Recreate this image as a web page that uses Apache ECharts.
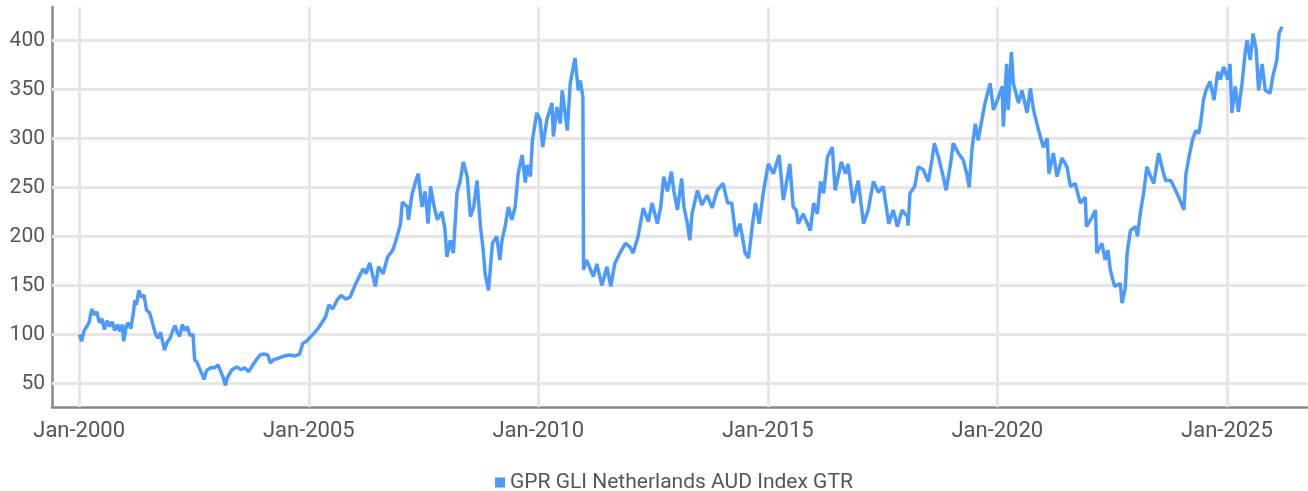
<!DOCTYPE html>
<html>
<head>
<meta charset="utf-8">
<title>GPR GLI Netherlands AUD Index GTR</title>
<script src="https://cdn.jsdelivr.net/npm/echarts@6/dist/echarts.min.js"></script>
<style>
  html, body { margin: 0; padding: 0; background: #fff; }
  #chart { width: 1308px; height: 491px; }
</style>
</head>
<body>
<div id="chart"></div>
<script>
// values (approximate)
var seriesName = 'GPR GLI Netherlands AUD Index GTR';

var dates = [
  '2000-01-03','2000-01-20','2000-02-10','2000-03-01','2000-03-20','2000-04-10','2000-05-01','2000-05-20','2000-06-10','2000-07-01',
  '2000-07-20','2000-08-10','2000-09-01','2000-09-20','2000-10-10','2000-11-01','2000-11-20','2000-12-10','2000-12-20','2001-01-10',
  '2001-01-25','2001-02-15','2001-03-05','2001-03-20','2001-04-01','2001-04-20','2001-05-10','2001-06-01','2001-06-20','2001-07-15',
  '2001-08-10','2001-09-01','2001-09-20','2001-10-10','2001-11-10','2001-12-01','2001-12-25','2002-01-15','2002-02-01','2002-02-20',
  '2002-03-10','2002-04-01','2002-04-20','2002-05-10','2002-06-01','2002-06-25','2002-07-08','2002-07-25','2002-08-20','2002-09-10',
  '2002-09-20','2002-10-10','2002-11-10','2002-12-15','2003-01-10','2003-02-01','2003-02-20','2003-03-10','2003-03-25','2003-05-01',
  '2003-06-10','2003-07-10','2003-08-10','2003-09-10','2003-10-10','2003-11-10','2003-12-10','2004-01-10','2004-02-10','2004-03-01',
  '2004-03-25','2004-05-10','2004-06-20','2004-08-01','2004-09-10','2004-10-20','2004-11-15','2004-12-15','2005-01-10','2005-02-10',
  '2005-03-15','2005-04-15','2005-05-15','2005-06-10','2005-07-10','2005-08-15','2005-09-15','2005-10-20','2005-11-25','2006-01-10',
  '2006-02-10','2006-03-10','2006-04-01','2006-05-01','2006-06-15','2006-07-10','2006-08-15','2006-09-20','2006-11-01','2006-12-05',
  '2007-01-01','2007-01-15','2007-02-25','2007-03-05','2007-04-01','2007-05-01','2007-05-22','2007-06-20','2007-07-15','2007-08-08',
  '2007-08-28','2007-09-20','2007-10-20','2007-11-25','2007-12-20','2008-01-05','2008-02-01','2008-02-25','2008-03-25','2008-04-20',
  '2008-05-15','2008-06-15','2008-07-10','2008-08-05','2008-09-01','2008-09-28','2008-10-20','2008-11-05','2008-12-01','2009-01-01',
  '2009-02-05','2009-03-01','2009-03-18','2009-04-12','2009-05-08','2009-06-05','2009-07-01','2009-07-25','2009-08-25','2009-09-20',
  '2009-10-05','2009-10-30','2009-11-15','2009-12-20','2010-01-15','2010-02-05','2010-03-10','2010-04-20','2010-05-01','2010-05-30',
  '2010-06-25','2010-07-10','2010-08-20','2010-09-12','2010-10-20','2010-11-15','2010-12-01','2010-12-22','2010-12-27','2011-01-20',
  '2011-03-15','2011-04-12','2011-05-22','2011-07-01','2011-08-01','2011-09-01','2011-10-12','2011-11-25','2012-01-01','2012-01-25',
  '2012-03-05','2012-04-15','2012-05-25','2012-06-25','2012-08-05','2012-09-01','2012-09-25','2012-10-25','2012-11-25','2012-12-15',
  '2013-01-12','2013-02-15','2013-03-05','2013-04-01','2013-04-20','2013-05-08','2013-06-20','2013-07-25','2013-09-05','2013-10-15',
  '2013-11-25','2014-01-10','2014-02-15','2014-03-20','2014-04-22','2014-05-25','2014-07-05','2014-08-01','2014-08-30','2014-09-25',
  '2014-10-25','2014-11-25','2015-01-05','2015-02-15','2015-04-01','2015-05-05','2015-06-25','2015-07-22','2015-08-15','2015-09-01',
  '2015-10-10','2015-12-05','2016-01-01','2016-01-30','2016-02-25','2016-03-20','2016-04-20','2016-05-28','2016-06-20','2016-08-08',
  '2016-09-10','2016-10-01','2016-11-10','2016-12-20','2017-02-01','2017-03-10','2017-04-20','2017-05-30','2017-07-08','2017-08-20',
  '2017-09-25','2017-10-28','2017-12-05','2018-01-15','2018-01-22','2018-02-05','2018-03-15','2018-04-12','2018-05-22','2018-07-01',
  '2018-07-30','2018-08-18','2018-09-20','2018-10-28','2018-11-20','2018-12-25','2019-01-15','2019-02-25','2019-04-05','2019-05-05',
  '2019-05-22','2019-06-15','2019-07-10','2019-08-01','2019-09-25','2019-11-05','2019-12-01','2020-01-08','2020-02-10','2020-02-18',
  '2020-03-15','2020-03-28','2020-04-22','2020-05-08','2020-06-18','2020-07-15','2020-08-25','2020-09-20','2020-10-15','2020-11-25',
  '2021-01-01','2021-02-01','2021-02-15','2021-03-22','2021-04-20','2021-05-30','2021-07-08','2021-08-05','2021-09-12','2021-10-22',
  '2021-12-01','2021-12-10','2022-01-25','2022-02-20','2022-03-03','2022-04-12','2022-05-08','2022-05-30','2022-06-18','2022-07-22',
  '2022-09-05','2022-09-20','2022-10-15','2022-10-30','2022-11-25','2023-01-05','2023-01-20','2023-02-12','2023-03-10','2023-04-05',
  '2023-05-05','2023-05-30','2023-07-08','2023-08-08','2023-09-01','2023-10-12','2023-11-05','2023-12-15','2024-01-25','2024-02-10',
  '2024-03-05','2024-04-01','2024-04-28','2024-05-22','2024-06-05','2024-06-28','2024-07-18','2024-08-20','2024-09-20','2024-10-20',
  '2024-11-10','2024-12-05','2025-01-08','2025-01-25','2025-02-10','2025-03-08','2025-04-02','2025-05-01','2025-05-25','2025-06-10',
  '2025-07-05','2025-07-28','2025-08-22','2025-09-10','2025-10-08','2025-11-02','2025-12-10','2026-01-01','2026-02-02','2026-02-20',
  '2026-03-15'
];

var values = [
  100, 93, 104, 108, 112, 126, 120, 123, 112, 116,
  105, 114, 108, 113, 104, 110, 103, 110, 93, 108,
  112, 106, 120, 135, 130, 145, 138, 140, 125, 122,
  110, 100, 96, 102, 84, 92, 96, 104, 109, 102,
  98, 110, 104, 108, 99, 100, 74, 72, 64, 58,
  54, 63, 66, 66, 69, 62, 56, 48, 56, 64,
  67, 64, 66, 62, 68, 74, 79, 80, 79, 71,
  74, 76, 78, 79, 78, 80, 91, 93, 97, 101,
  106, 112, 118, 130, 126, 135, 140, 136, 138, 152,
  160, 167, 162, 173, 149, 169, 162, 179, 186, 200,
  213, 235, 230, 217, 242, 256, 264, 230, 246, 213,
  251, 234, 217, 225, 208, 179, 196, 183, 244, 257,
  276, 261, 220, 230, 257, 210, 186, 161, 145, 193,
  200, 176, 196, 210, 230, 217, 230, 264, 283, 255,
  273, 261, 298, 326, 319, 291, 319, 336, 302, 332,
  315, 349, 308, 356, 382, 349, 359, 342, 166, 176,
  159, 172, 150, 169, 149, 172, 183, 193, 189, 183,
  200, 229, 215, 234, 213, 230, 261, 246, 266, 246,
  227, 259, 230, 213, 196, 223, 247, 232, 242, 229,
  247, 254, 234, 234, 200, 213, 183, 178, 210, 234,
  213, 244, 274, 264, 283, 237, 274, 230, 227, 213,
  223, 206, 234, 223, 256, 244, 281, 291, 247, 276,
  264, 274, 234, 257, 213, 227, 256, 245, 251, 213,
  227, 210, 227, 220, 211, 244, 251, 271, 268, 256,
  278, 295, 281, 261, 247, 274, 295, 285, 278, 263,
  250, 291, 315, 298, 336, 356, 329, 341, 353, 312,
  376, 329, 388, 356, 336, 349, 326, 351, 329, 308,
  291, 300, 264, 285, 261, 280, 271, 251, 254, 234,
  240, 210, 220, 227, 183, 193, 176, 186, 166, 149,
  152, 132, 147, 183, 206, 210, 200, 224, 244, 271,
  261, 254, 285, 268, 257, 257, 251, 240, 227, 264,
  281, 298, 308, 305, 315, 339, 349, 358, 339, 368,
  360, 373, 360, 376, 326, 353, 327, 356, 386, 400,
  380, 407, 390, 349, 376, 349, 346, 363, 380, 407,
  414
];

var yTicks = [50, 100, 150, 200, 250, 300, 350, 400];
var xTicks = ['2000-01-01', '2005-01-01', '2010-01-01', '2015-01-01', '2020-01-01', '2025-01-01'];

function ts(d) { return +new Date(d + 'T00:00:00Z'); }

var chart = echarts.init(document.getElementById('chart'));

var xTickTimes = xTicks.map(ts);
var gridLines = yTicks.map(function (v) { return { yAxis: v }; })
  .concat(xTickTimes.map(function (t) { return { xAxis: t }; }));

chart.setOption({
  animation: false,
  textStyle: { fontFamily: 'Roboto' },
  grid: { left: 52, right: 1, top: 7, bottom: 84 },
  legend: {
    top: 467,
    left: 490,
    icon: 'rect',
    itemWidth: 10,
    itemHeight: 10,
    itemGap: 6,
    textStyle: { fontSize: 21, color: '#555', fontFamily: 'Roboto' },
    data: [seriesName]
  },
  xAxis: {
    type: 'value',
    min: ts('1999-05-30'),
    max: ts('2026-09-30'),
    axisLine: { show: true, lineStyle: { color: '#888', width: 2.5 } },
    axisTick: { show: false },
    splitLine: { show: false },
    axisLabel: {
      customValues: xTickTimes,
      margin: 13,
      fontSize: 22,
      color: '#555',
      formatter: function (v) { return 'Jan-' + new Date(v).getUTCFullYear(); }
    }
  },
  yAxis: {
    type: 'value',
    min: 26,
    max: 434,
    axisLine: { show: true, lineStyle: { color: '#888', width: 2.5 } },
    axisTick: { show: false },
    splitLine: { show: false },
    axisLabel: {
      customValues: yTicks,
      margin: 7,
      fontSize: 21,
      color: '#555'
    }
  },
  series: [{
    name: seriesName,
    type: 'line',
    data: dates.map(function (d, i) { return [ts(d), values[i]]; }),
    showSymbol: false,
    symbol: 'none',
    z: 3,
    lineStyle: { color: '#4d9aff', width: 3.5 },
    itemStyle: { color: '#4d9aff' },
    markLine: {
      silent: true,
      z: 1,
      animation: false,
      symbol: ['none', 'none'],
      label: { show: false },
      lineStyle: { color: '#e6e6e6', width: 3, type: 'solid' },
      data: gridLines
    }
  }]
});
</script>
</body>
</html>
